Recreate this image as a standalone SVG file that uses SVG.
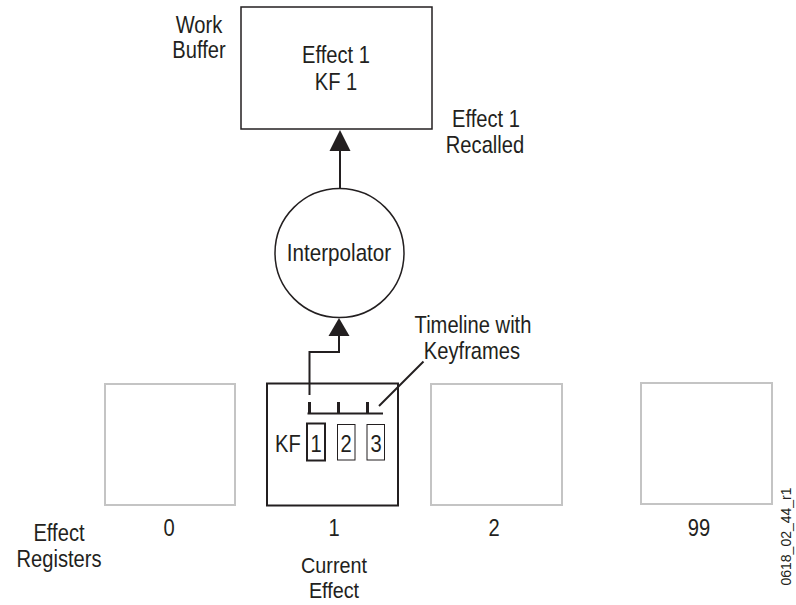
<svg xmlns="http://www.w3.org/2000/svg" width="796" height="605" viewBox="0 0 796 605">
  <style>
    text { font-family: "Liberation Sans", Arial, sans-serif; font-size: 24px; fill: #231f20; }
    .c { text-anchor: middle; }
    .sm { font-size: 22px; }
    .box { fill: #ffffff; stroke: #231f20; stroke-width: 1.5; }
    .cur { fill: #ffffff; stroke: #231f20; stroke-width: 2; }
    .reg { fill: #ffffff; stroke: #c4c4c4; stroke-width: 2; }
    .ln { fill: none; stroke: #231f20; stroke-width: 2; }
    .ah { fill: #231f20; stroke: none; }
    .tick { stroke: #231f20; stroke-width: 3; }
    .kf1 { fill: #ffffff; stroke: #231f20; stroke-width: 2; }
    .kf { fill: #ffffff; stroke: #231f20; stroke-width: 1; }
    .tag { font-size: 14px; }
  </style>
  <rect width="796" height="605" fill="#ffffff"/>

  <g id="work-buffer">
    <rect class="box" x="241" y="7" width="191" height="122"/>
    <text class="c" transform="translate(336,63) scale(0.84,1)">Effect 1</text>
    <text class="c" transform="translate(336,90) scale(0.84,1)">KF 1</text>
    <text class="c" transform="translate(199,33) scale(0.84,1)">Work</text>
    <text class="c" transform="translate(199,58) scale(0.84,1)">Buffer</text>
  </g>

  <g id="recalled-label">
    <text class="c" transform="translate(486,127) scale(0.84,1)">Effect 1</text>
    <text class="c" transform="translate(485,153) scale(0.84,1)">Recalled</text>
  </g>

  <g id="interpolator">
    <circle class="box" cx="339.5" cy="253" r="64.5"/>
    <text class="c" transform="translate(339,261) scale(0.86,1)">Interpolator</text>
  </g>

  <g id="timeline-label">
    <text class="c" transform="translate(473,333) scale(0.84,1)">Timeline with</text>
    <text class="c" transform="translate(472,359) scale(0.84,1)">Keyframes</text>
  </g>

  <g id="register-0">
    <rect class="reg" x="105" y="384" width="130" height="121"/>
    <text class="c" transform="translate(169,536) scale(0.84,1)">0</text>
  </g>

  <g id="register-1">
    <rect class="cur" x="267" y="383.5" width="131" height="122"/>
    <line class="ln" x1="307.5" y1="413.5" x2="383" y2="413.5"/>
    <line class="tick" x1="309.5" y1="402" x2="309.5" y2="413"/>
    <line class="tick" x1="338.5" y1="402" x2="338.5" y2="413"/>
    <line class="tick" x1="367.5" y1="402" x2="367.5" y2="413"/>
    <text transform="translate(275,452) scale(0.84,1)">KF</text>
    <rect class="kf1" x="307" y="423.5" width="18" height="37"/>
    <rect class="kf" x="337.5" y="424.5" width="17.5" height="35.5"/>
    <rect class="kf" x="367" y="424.5" width="17.5" height="35.5"/>
    <text class="c" transform="translate(316,452) scale(0.84,1)">1</text>
    <text class="c" transform="translate(346,452) scale(0.84,1)">2</text>
    <text class="c" transform="translate(376,452) scale(0.84,1)">3</text>
    <text class="c" transform="translate(334,536) scale(0.84,1)">1</text>
    <text class="c sm" transform="translate(334,572.5) scale(0.9,1)">Current</text>
    <text class="c sm" transform="translate(334,597.5) scale(0.9,1)">Effect</text>
  </g>

  <g id="register-2">
    <rect class="reg" x="431" y="384" width="131" height="121"/>
    <text class="c" transform="translate(494,536) scale(0.84,1)">2</text>
  </g>

  <g id="register-99">
    <rect class="reg" x="641" y="383" width="131" height="121"/>
    <text class="c" transform="translate(699,536) scale(0.84,1)">99</text>
  </g>

  <g id="registers-label">
    <text class="c" transform="translate(59,541) scale(0.84,1)">Effect</text>
    <text class="c" transform="translate(59,567) scale(0.84,1)">Registers</text>
  </g>

  <g id="connectors">
    <line class="ln" x1="340" y1="188" x2="340" y2="148"/>
    <polygon class="ah" points="340,130 329.5,151 350.5,151"/>
    <polyline class="ln" points="309.5,395 309.5,352 339,352 339,334"/>
    <polygon class="ah" points="339,318 328.5,336 349.5,336"/>
    <line class="ln" stroke-width="1.5" x1="379" y1="406" x2="423.5" y2="361.5"/>
  </g>

  <text class="c tag" transform="translate(791,536.5) rotate(-90)">0618_02_44_r1</text>
</svg>
